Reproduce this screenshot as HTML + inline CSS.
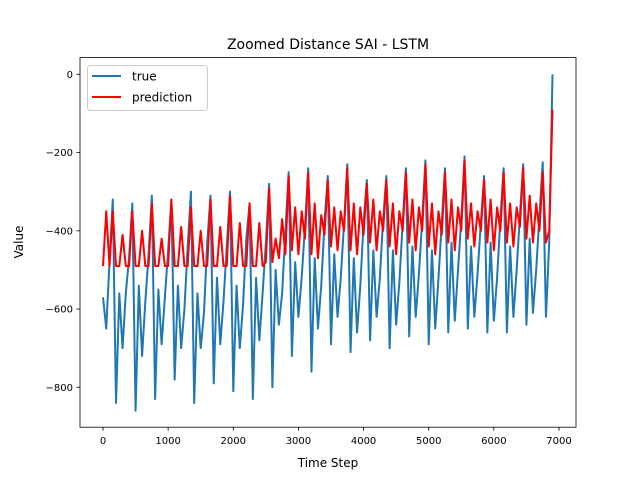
<!DOCTYPE html>
<html><head><meta charset="utf-8"><style>
body{margin:0;background:#fff;}
svg{display:block;font-family:"DejaVu Sans","Liberation Sans",sans-serif;}
</style></head><body>
<svg id="chart" width="640" height="480" viewBox="0 0 640 480">
<rect width="640" height="480" fill="#fff"/>
<text x="328" y="49" font-size="14" text-anchor="middle">Zoomed Distance SAI - LSTM</text>
<g id="plot"></g>
<text x="328" y="467" font-size="12" text-anchor="middle">Time Step</text>
<text x="23" y="242" font-size="12" text-anchor="middle" transform="rotate(-90 23 242)">Value</text>
<g>
<rect x="87.5" y="65.5" width="120" height="45" rx="3" fill="#fff" fill-opacity="0.8" stroke="#ccc"/>
<line x1="92" y1="76" x2="121" y2="76" stroke="#1f77b4" stroke-width="2"/>
<text x="132" y="80.5" font-size="12">true</text>
<line x1="92" y1="97" x2="121" y2="97" stroke="#ff0000" stroke-width="2"/>
<text x="132" y="101.5" font-size="12">prediction</text>
</g>
</svg>
<script>
const xTicks=[0,1000,2000,3000,4000,5000,6000,7000];
const yTicks=[0,-200,-400,-600,-800];
const stepSize=50;
const trueValues=[-570,-650,-480,
-320,-840,-560,-700,-560,-470,
-330,-860,-540,-720,-580,-460,
-310,-830,-550,-690,-570,-450,
-320,-780,-540,-700,-600,-440,
-300,-840,-560,-700,-610,-430,
-310,-790,-520,-690,-580,-440,
-300,-810,-540,-700,-590,-420,
-330,-830,-520,-680,-560,-430,
-280,-800,-500,-640,-560,-400,
-250,-720,-480,-620,-520,-390,
-240,-760,-470,-650,-540,-380,
-260,-690,-460,-620,-520,-380,
-230,-710,-470,-660,-540,-380,
-270,-680,-450,-620,-520,-370,
-260,-700,-450,-640,-530,-380,
-240,-670,-440,-620,-510,-370,
-220,-690,-450,-650,-520,-380,
-240,-660,-430,-630,-500,-370,
-210,-650,-440,-620,-510,-380,
-260,-660,-430,-630,-520,-370,
-240,-660,-440,-620,-500,-360,
-230,-640,-420,-610,-500,-360,
-225,-620,-430,0];
const predValues=[-490,-350,-490,
-350,-490,-490,-410,-490,-490,
-350,-490,-490,-400,-490,-490,
-330,-490,-490,-420,-490,-490,
-320,-490,-490,-390,-490,-490,
-340,-490,-490,-400,-490,-490,
-320,-490,-490,-390,-490,-490,
-310,-490,-490,-380,-490,-490,
-330,-490,-490,-380,-490,-480,
-290,-480,-420,-470,-370,-460,
-260,-450,-340,-460,-350,-420,
-250,-460,-330,-470,-360,-410,
-270,-440,-340,-450,-350,-400,
-240,-450,-330,-460,-340,-410,
-280,-430,-320,-450,-350,-400,
-270,-440,-330,-460,-350,-400,
-250,-430,-320,-450,-340,-400,
-230,-440,-330,-460,-350,-410,
-250,-430,-320,-450,-340,-400,
-220,-420,-330,-440,-350,-400,
-270,-430,-320,-450,-340,-400,
-250,-430,-330,-440,-340,-390,
-240,-420,-310,-430,-330,-400,
-250,-430,-400,-90];
const NS='http://www.w3.org/2000/svg';
const L=80,R=576,T=57.6,B=427.2;
function xScale(v){return 103+v*(456/7000);}
function yScale(v){return 74.3-v*(313/800);}
const plot=document.getElementById('plot');
function mk(t,a){const e=document.createElementNS(NS,t);for(const k in a)e.setAttribute(k,a[k]);return e;}
function series(vals,color,name){
  let d='';
  vals.forEach((v,i)=>{d+=(i?'L':'M')+xScale(i*stepSize).toFixed(2)+' '+yScale(v).toFixed(2);});
  const p=mk('path',{d:d,fill:'none',stroke:color,'stroke-width':2,'stroke-linejoin':'round'});
  
  
  plot.appendChild(p);
}
series(trueValues,'#1f77b4','true-line');
series(predValues,'#ff0000','prediction-line');
const frame=mk('rect',{x:L,y:T,width:R-L,height:B-T,fill:'none',stroke:'#000','stroke-width':0.8});


plot.appendChild(frame);
xTicks.forEach(v=>{
  const x=xScale(v);
  const t=mk('line',{x1:x,x2:x,y1:B,y2:B+3.5,stroke:'#000','stroke-width':0.8});
  
  
  plot.appendChild(t);
  const l=mk('text',{x:x,y:B+17,'font-size':10,'text-anchor':'middle'});
  l.textContent=v;
  
  
  plot.appendChild(l);
});
yTicks.forEach(v=>{
  const y=yScale(v);
  const t=mk('line',{x1:L-3.5,x2:L,y1:y,y2:y,stroke:'#000','stroke-width':0.8});
  
  
  plot.appendChild(t);
  const l=mk('text',{x:L-7,y:y+3.5,'font-size':10,'text-anchor':'end'});
  l.textContent=v===0?'0':'\u2212'+Math.abs(v);
  
  
  plot.appendChild(l);
});
</script>
</body></html>
